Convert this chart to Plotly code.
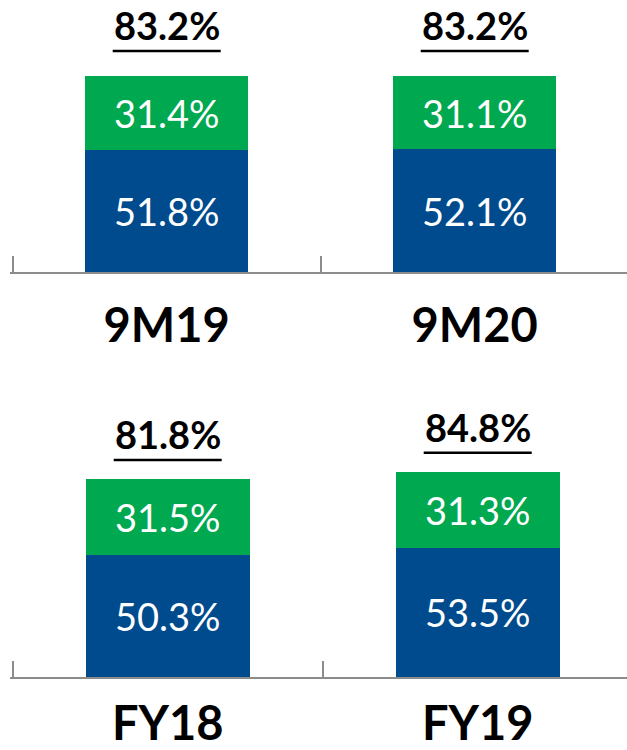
import plotly.graph_objects as go

# Ratio breakdown per period: lower (blue) and upper (green) components, in %
periods_top = ["9M19", "9M20"]
lower_top = [51.8, 52.1]
upper_top = [31.4, 31.1]

periods_bottom = ["FY18", "FY19"]
lower_bottom = [50.3, 53.5]
upper_bottom = [31.5, 31.3]

BLUE = "#004B8D"
GREEN = "#00A850"
AXIS_GREY = "#8C8C8C"
FONT = "Lato"

W, H = 627, 750

fig = go.Figure()

panels = [
    # (categories, lower, upper, xaxis, yaxis, total-label shift, underline offset)
    (periods_top, lower_top, upper_top, "x", "y", 26, 25),
    (periods_bottom, lower_bottom, upper_bottom, "x2", "y2", 20, 19),
]

for cats, lower, upper, xa, ya, label_shift, line_off in panels:
    for vals, color in ((lower, BLUE), (upper, GREEN)):
        fig.add_trace(go.Bar(
            x=cats, y=vals, xaxis=xa, yaxis=ya,
            marker=dict(color=color, line=dict(width=0)),
            width=0.53,
            texttemplate="%{y:.1f}%",
            textposition="inside",
            insidetextanchor="middle",
            textangle=0,
            constraintext="none",
            textfont=dict(family=FONT, size=38, color="white"),
            showlegend=False,
            hoverinfo="skip",
        ))
    # underlined totals above each stack
    for c, lo, up in zip(cats, lower, upper):
        total = round(lo + up, 1)
        fig.add_annotation(
            x=c, y=total, xref=xa, yref=ya,
            text=f"<b>{total:.1f}%</b>",
            showarrow=False, yanchor="bottom", yshift=label_shift,
            font=dict(family=FONT, size=38, color="black"),
        )
        fig.add_shape(
            type="line", xref=xa, yref=ya,
            xsizemode="pixel", ysizemode="pixel",
            xanchor=c, yanchor=total,
            x0=-54, x1=54, y0=line_off, y1=line_off,
            line=dict(color="black", width=2.5),
        )

xaxis_common = dict(
    type="category",
    showline=True, linecolor=AXIS_GREY, linewidth=2,
    ticks="inside", tickson="boundaries", ticklen=16,
    tickcolor=AXIS_GREY, tickwidth=2,
    tickfont=dict(family=FONT, size=47, color="black", weight="bold"),
    automargin=False,
    showgrid=False, zeroline=False, fixedrange=True,
)

# small pad left of the first boundary so its tick is drawn
PAD = 0.01
fig.update_layout(
    width=W, height=H,
    margin=dict(l=0, r=0, t=0, b=0, autoexpand=False),
    paper_bgcolor="white", plot_bgcolor="white",
    barmode="stack", bargap=0.47,
    xaxis=dict(xaxis_common, domain=[(12.7 - PAD * 308) / W, 1],
               range=[-0.5 - PAD, -0.5 + (W - 12.7) / 308], anchor="y",
               ticklabelstandoff=12),
    yaxis=dict(domain=[1 - 272 / H, 1], range=[0, 272 / 2.356],
               visible=False, anchor="x", automargin=False),
    xaxis2=dict(xaxis_common, domain=[(12.7 - PAD * 310) / W, 1],
                range=[-0.5 - PAD, -0.5 + (W - 12.7) / 310], anchor="y2",
                ticklabelstandoff=5),
    yaxis2=dict(domain=[1 - 677 / H, 1 - 404 / H], range=[0, 273 / 2.42],
                visible=False, anchor="x2", automargin=False),
)

fig.write_html("out.html")
